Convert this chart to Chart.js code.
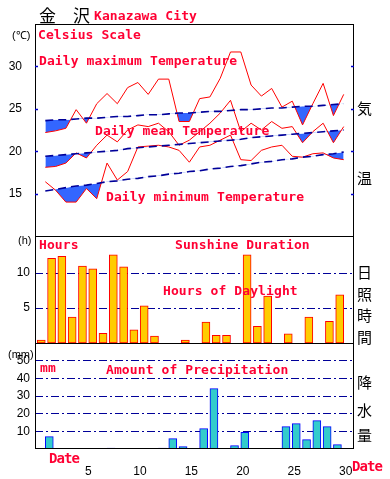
<!DOCTYPE html>
<html>
<head>
<meta charset="utf-8">
<script src="https://cdn.jsdelivr.net/npm/chart.js@4.4.1/dist/chart.umd.min.js"></script>
<style>
  html, body { margin: 0; padding: 0; background: #fff; }
  #wrap { position: relative; width: 390px; height: 479px; overflow: hidden; }
  #wrap canvas { position: absolute; left: 0; top: 0; }
  .t { position: absolute; white-space: nowrap; line-height: 1; }
  .red { color: #ff0033; font: bold 13px "DejaVu Sans Mono", monospace; letter-spacing: 0.1px; }
  .kj { left: 357px; font: 15px "Noto Sans CJK JP", sans-serif; color: #000; }
  .unit { font: 11px "Liberation Sans", Arial, sans-serif; color: #000; }
</style>
</head>
<body>
<div id="wrap">
  <canvas id="chart" width="390" height="479"></canvas>

  <div class="t" style="left:39px;top:2px;font:17px 'Noto Sans CJK JP',sans-serif;color:#000;">金　沢</div>
  <div class="t red" style="left:94px;top:8px;">Kanazawa City</div>

  <div class="t unit" style="left:12px;top:27px;">(℃)</div>
  <div class="t unit" style="left:18px;top:234px;">(h)</div>
  <div class="t unit" style="left:8px;top:348px;">(mm)</div>

  <div class="t red" style="left:38px;top:27px;">Celsius Scale</div>
  <div class="t red" style="left:39px;top:53px;">Daily maximum Temperature</div>
  <div class="t red" style="left:95px;top:123px;">Daily mean Temperature</div>
  <div class="t red" style="left:106px;top:189px;">Daily minimum Temperature</div>
  <div class="t red" style="left:39px;top:237px;">Hours</div>
  <div class="t red" style="left:175px;top:237px;">Sunshine Duration</div>
  <div class="t red" style="left:163px;top:283px;">Hours of Daylight</div>
  <div class="t red" style="left:40px;top:360px;">mm</div>
  <div class="t red" style="left:106px;top:362px;">Amount of Precipitation</div>
  <div class="t red" style="left:49px;top:450px;font-size:14px;letter-spacing:-0.9px;">Date</div>
  <div class="t red" style="left:352px;top:458px;font-size:14px;letter-spacing:-0.9px;">Date</div>

  <div class="t kj" style="top:97px;">気</div>
  <div class="t kj" style="top:167px;">温</div>
  <div class="t kj" style="top:261px;">日</div>
  <div class="t kj" style="top:283px;">照</div>
  <div class="t kj" style="top:304px;">時</div>
  <div class="t kj" style="top:326px;">間</div>
  <div class="t kj" style="top:371px;">降</div>
  <div class="t kj" style="top:399px;">水</div>
  <div class="t kj" style="top:424px;">量</div>
</div>

<script>
// 日付
const days = [1,2,3,4,5,6,7,8,9,10,11,12,13,14,15,16,17,18,19,20,21,22,23,24,25,26,27,28,29,30];

// 気温 (℃)
const maxTemp = [22.2,22.4,22.7,24.9,23.3,25.6,26.8,25.6,27.5,28.1,26.7,28.5,28.5,23.5,23.5,
                 26.2,26.4,28.6,31.7,31.7,27.8,26.5,27.4,25.2,25.9,23.1,25.6,28.0,24.2,26.7];
const maxNormal = [23.6,23.7,23.7,23.8,23.9,23.9,24.0,24.1,24.1,24.2,24.3,24.3,24.4,24.5,24.5,
                   24.6,24.7,24.7,24.8,24.9,24.9,25.0,25.1,25.1,25.2,25.3,25.3,25.4,25.5,25.6];
const meanTemp = [18.1,18.2,18.6,19.8,19.2,20.7,21.9,21.1,22.5,23.1,22.9,23.3,22.3,20.7,21.3,
                  22.3,23.3,24.5,26.0,22.3,23.3,22.5,23.5,22.7,22.9,21.0,22.3,23.3,21.0,22.9];
const meanNormal = [19.4,19.5,19.6,19.7,19.8,19.9,20.0,20.1,20.3,20.4,20.5,20.6,20.7,20.8,20.9,
                    21.0,21.1,21.2,21.3,21.4,21.6,21.7,21.8,21.9,22.0,22.1,22.2,22.3,22.4,22.5];
const minTemp = [16.4,15.4,14.0,14.0,15.6,14.4,18.6,16.6,17.6,20.5,20.6,20.7,20.5,20.1,18.7,
                 20.5,20.7,21.3,21.9,19.0,18.9,20.1,20.5,20.7,19.4,19.3,19.7,19.8,19.2,19.0];
const minNormal = [15.3,15.5,15.7,15.9,16.0,16.2,16.4,16.5,16.7,16.8,17.0,17.1,17.3,17.4,17.6,
                   17.7,17.9,18.0,18.2,18.3,18.5,18.7,18.8,19.0,19.1,19.3,19.4,19.6,19.7,19.9];

// 日照時間 (h)
const sunshine = [0.4,12.1,12.4,3.7,11.0,10.6,1.4,12.6,10.9,1.9,5.3,1.0,0,0,0.4,
                  0,3.0,1.1,1.1,0,12.6,2.4,6.7,0,1.3,0,3.7,0,3.1,6.9];

// 降水量 (mm)
const precip = [7.0,0,0,0,0,0,0.5,0,0,0,0,0.5,5.9,1.4,0,
                11.5,34.2,0,1.9,9.5,0,0,0,12.7,14.4,5.3,16.1,12.7,2.5,0];

// 目盛り
const xTicks = [5,10,15,20,25,30];
const tempTicks = [15,20,25,30];
const sunTicks = [5,10];
const precipTicks = [10,20,30,40,50];

const C = {
    red: '#ff0000',
    normal: '#000099',
    cold: '#3366ff',
    sun: '#ffcc00',
    rain: '#33cccc',
    rainEdge: '#0000ff',
    grid: '#000099'
};

const pts = arr => days.map((d, i) => ({x: d, y: arr[i]}));
const bars = arr => days.map((d, i) => ({x: d, y: arr[i] > 0 ? arr[i] : null}));
const fixTicks = list => s => { s.ticks = list.map(v => ({value: v})); };

const tickFont = {family: '"Liberation Sans", Arial, sans-serif', size: 12};

const normalLine = (arr) => ({
    type: 'line', data: pts(arr), yAxisID: 'yT',
    borderColor: C.normal, borderWidth: 1.6, borderDash: [8, 5],
    pointRadius: 0, fill: false, tension: 0
});
const actualLine = (arr, target) => ({
    type: 'line', data: pts(arr), yAxisID: 'yT',
    borderColor: C.red, borderWidth: 1, pointRadius: 0, tension: 0,
    fill: {target: target, above: 'rgba(0,0,0,0)', below: C.cold}
});

// 枠線と気温の目盛り線
const framePlugin = {
    id: 'frame',
    afterDraw(chart) {
        const {ctx, chartArea: a, scales} = chart;
        ctx.save();
        ctx.strokeStyle = '#000';
        ctx.lineWidth = 1;
        ctx.strokeRect(a.left + 0.5, a.top + 0.5, a.width - 1, a.height - 1);
        [scales.yT.bottom, scales.yS.bottom].forEach(y => {
            const yy = Math.round(y) + 0.5;
            ctx.beginPath();
            ctx.moveTo(a.left, yy);
            ctx.lineTo(a.right, yy);
            ctx.stroke();
        });
        ctx.strokeStyle = '#0000cc';
        ctx.lineWidth = 1.5;
        scales.yT.ticks.forEach(t => {
            const y = Math.round(scales.yT.getPixelForValue(t.value)) + 0.5;
            ctx.beginPath();
            ctx.moveTo(a.left, y); ctx.lineTo(a.left + 3, y);
            ctx.moveTo(a.right - 3, y); ctx.lineTo(a.right, y);
            ctx.stroke();
        });
        ctx.restore();
    }
};

new Chart(document.getElementById('chart'), {
    type: 'line',
    data: {
        datasets: [
            normalLine(maxNormal),
            actualLine(maxTemp, 0),
            normalLine(meanNormal),
            actualLine(meanTemp, 2),
            normalLine(minNormal),
            actualLine(minTemp, 4),
            {
                type: 'bar', data: bars(sunshine), yAxisID: 'yS',
                backgroundColor: C.sun, borderColor: C.red, borderWidth: 1,
                borderSkipped: false, barThickness: 8
            },
            {
                type: 'bar', data: bars(precip), yAxisID: 'yP',
                backgroundColor: C.rain, borderColor: C.rainEdge, borderWidth: 1,
                borderSkipped: false, barThickness: 8
            }
        ]
    },
    options: {
        responsive: false,
        animation: false,
        events: [],
        layout: {padding: {left: 0, right: 36, top: 24, bottom: 0}},
        plugins: {legend: {display: false}, tooltip: {enabled: false}},
        scales: {
            x: {
                type: 'linear', min: 0, max: 31, offset: false,
                grid: {display: false}, border: {display: false},
                afterBuildTicks: fixTicks(xTicks),
                ticks: {
                    padding: 7, labelOffset: 2, color: '#000', font: tickFont,
                    maxRotation: 0, autoSkip: false
                },
                afterFit: s => { s.height = 30; }
            },
            yP: {
                type: 'linear', position: 'left', stack: 'panels', stackWeight: 106, weight: 1,
                min: 0, max: 60,
                afterBuildTicks: fixTicks(precipTicks),
                grid: {drawTicks: false, color: C.grid},
                border: {display: false, dash: [8, 3, 2, 3]},
                ticks: {padding: 5, color: '#000', font: tickFont, autoSkip: false},
                afterFit: s => { s.width = 35; }
            },
            yS: {
                type: 'linear', position: 'left', stack: 'panels', stackWeight: 107, weight: 2,
                min: 0, max: 15.3,
                afterBuildTicks: fixTicks(sunTicks),
                grid: {drawTicks: false, color: C.grid},
                border: {display: false, dash: [8, 3, 2, 3]},
                ticks: {padding: 5, color: '#000', font: tickFont, autoSkip: false},
                afterFit: s => { s.width = 35; }
            },
            yT: {
                type: 'linear', position: 'left', stack: 'panels', stackWeight: 212, weight: 3,
                min: 10, max: 35,
                afterBuildTicks: fixTicks(tempTicks),
                grid: {display: false},
                border: {display: false},
                ticks: {padding: 5, color: '#000', font: tickFont, autoSkip: false},
                afterFit: s => { s.width = 35; }
            }
        }
    },
    plugins: [framePlugin]
});
</script>
</body>
</html>
